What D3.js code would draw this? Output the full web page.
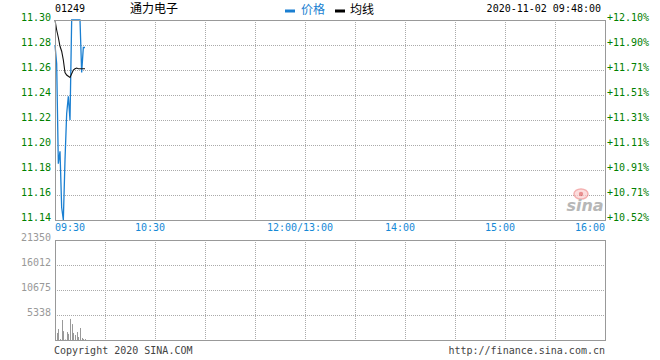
<!DOCTYPE html>
<html>
<head>
<meta charset="utf-8">
<script src="https://cdn.jsdelivr.net/npm/d3@7"></script>
<style>
  body { margin: 0; background: #fff; }
  text { font-family: "DejaVu Sans Mono", "Liberation Mono", monospace; font-size: 10px; }
  .cjk { font-family: "Noto Sans CJK SC", sans-serif; font-size: 12px; }
</style>
</head>
<body>
<script>
// minutes after 09:30 (09:30 .. 09:48)
const minutes = [0, 1, 2, 3, 4, 5, 6, 7, 8, 9, 10, 11, 12, 13, 14, 15, 16, 17, 18];
const prices = [11.28, 11.265, 11.185, 11.195, 11.15, 11.14, 11.188, 11.225, 11.239, 11.22,
  11.30, 11.30, 11.30, 11.30, 11.30, 11.30, 11.258, 11.278, 11.278];
const avgPrices = [11.30, 11.292, 11.286, 11.279, 11.275, 11.268, 11.258, 11.256, 11.255, 11.254,
  11.257, 11.26, 11.261, 11.2616, 11.261, 11.261, 11.261, 11.261, 11.261];
const volumes = [6000, 1500, 2350, 200, 4270, 1900, 100, 1700, 1300, 4500,
  3400, 1500, 1070, 1700, 640, 2560, 430, 200, 200];

const priceTicks = [11.30, 11.28, 11.26, 11.24, 11.22, 11.20, 11.18, 11.16, 11.14];
const pctLabels = ["+12.10%", "+11.90%", "+11.71%", "+11.51%", "+11.31%", "+11.11%", "+10.91%", "+10.71%", "+10.52%"];
const volTicks = [21350, 16012, 10675, 5338];
const timeTicks = [0, 60, 150, 210, 270, 330];
const timeLabels = ["09:30", "10:30", "12:00/13:00", "14:00", "15:00", "16:00"];
const gridMinutes = d3.range(30, 330, 30);

const width = 660, height = 360;
const left = 55, right = 605;

const svg = d3.select("body").append("svg")
  .attr("width", width)
  .attr("height", height);

const x = d3.scaleLinear().domain([0, 330]).range([left, right]);
const y = d3.scaleLinear().domain([11.14, 11.30]).range([220, 20]);
const yVol = d3.scaleLinear().domain([0, 21350]).range([340, 240]);

const gridColor = "#aaa";
const px = v => Math.round(v) + 0.5;

// header
svg.append("text").attr("x", 55).attr("y", 12).attr("fill", "#000").text("01249");
svg.append("text").attr("class", "cjk").attr("x", 130).attr("y", 13).attr("fill", "#000").text("通力电子");
svg.append("rect").attr("x", 285).attr("y", 9.5).attr("width", 10).attr("height", 3).attr("fill", "#1a7fd1");
svg.append("text").attr("class", "cjk").attr("x", 301).attr("y", 14).attr("fill", "#1a7fd1").text("价格");
svg.append("rect").attr("x", 335).attr("y", 9.5).attr("width", 10).attr("height", 3).attr("fill", "#000");
svg.append("text").attr("class", "cjk").attr("x", 350).attr("y", 14).attr("fill", "#000").text("均线");
svg.append("text").attr("x", 601).attr("y", 12).attr("text-anchor", "end").attr("fill", "#000").text("2020-11-02 09:48:00");

// price panel grid
const pg = svg.append("g");
pg.selectAll("line.v").data(gridMinutes).join("line")
  .attr("x1", d => px(x(d))).attr("x2", d => px(x(d)))
  .attr("y1", 20).attr("y2", 220)
  .attr("stroke", gridColor).attr("stroke-dasharray", "1,1");
pg.selectAll("line.h").data(priceTicks.slice(1, -1)).join("line")
  .attr("x1", left).attr("x2", right)
  .attr("y1", d => px(y(d))).attr("y2", d => px(y(d)))
  .attr("stroke", gridColor).attr("stroke-dasharray", "1,1");

// volume panel grid
const vg = svg.append("g");
vg.selectAll("line.v").data(gridMinutes).join("line")
  .attr("x1", d => px(x(d))).attr("x2", d => px(x(d)))
  .attr("y1", 240).attr("y2", 340)
  .attr("stroke", gridColor).attr("stroke-dasharray", "1,1");
vg.selectAll("line.h").data(volTicks.slice(1)).join("line")
  .attr("x1", left).attr("x2", right)
  .attr("y1", d => px(yVol(d))).attr("y2", d => px(yVol(d)))
  .attr("stroke", gridColor).attr("stroke-dasharray", "1,1");

// sina watermark
const wm = svg.append("g").attr("opacity", 0.7);
wm.append("ellipse").attr("cx", 581).attr("cy", 194).attr("rx", 7).attr("ry", 5)
  .attr("fill", "#fbd0d0").attr("stroke", "#f09090").attr("stroke-width", 1.5);
wm.append("circle").attr("cx", 581).attr("cy", 194).attr("r", 2.2).attr("fill", "#e06060");
wm.append("text").attr("x", 585).attr("y", 211).attr("text-anchor", "middle")
  .style("font-family", "'DejaVu Sans', sans-serif").style("font-size", "16px")
  .style("font-style", "italic").style("font-weight", "bold")
  .attr("fill", "#999").text("sina");

// volume bars
svg.selectAll("rect.vol").data(volumes).join("rect")
  .attr("class", "vol")
  .attr("x", (d, i) => Math.round(x(minutes[i])))
  .attr("y", d => yVol(d))
  .attr("width", 1)
  .attr("height", d => 340 - yVol(d))
  .attr("fill", "#999");

// lines
const priceLine = d3.line().x((d, i) => x(minutes[i])).y(d => y(d));
svg.append("path").datum(prices)
  .attr("d", priceLine)
  .attr("fill", "none").attr("stroke", "#1a7fd1").attr("stroke-width", 1.3);
svg.append("path").datum(avgPrices)
  .attr("d", priceLine)
  .attr("fill", "none").attr("stroke", "#111").attr("stroke-width", 1.1);

// frames
svg.append("rect").attr("x", 55.5).attr("y", 20.5).attr("width", 550).attr("height", 200)
  .attr("fill", "none").attr("stroke", "#999");
svg.append("rect").attr("x", 55.5).attr("y", 240.5).attr("width", 550).attr("height", 100)
  .attr("fill", "none").attr("stroke", "#999");

// axes labels
svg.selectAll("text.pl").data(priceTicks).join("text")
  .attr("class", "pl")
  .attr("x", 51).attr("y", d => y(d) + 1)
  .attr("text-anchor", "end").attr("fill", "#008000")
  .text(d => d.toFixed(2));
svg.selectAll("text.pr").data(pctLabels).join("text")
  .attr("class", "pr")
  .attr("x", 607).attr("y", (d, i) => y(priceTicks[i]) + 1)
  .attr("fill", "#008000")
  .text(d => d);
svg.selectAll("text.vl").data(volTicks).join("text")
  .attr("class", "vl")
  .attr("x", 51).attr("y", d => yVol(d) + 1)
  .attr("text-anchor", "end").attr("fill", "#999")
  .text(d => d);
svg.selectAll("text.tl").data(timeTicks).join("text")
  .attr("class", "tl")
  .attr("x", (d, i) => i === 0 ? x(d) : i === timeTicks.length - 1 ? x(d) : x(d) - 5)
  .attr("y", 230.5)
  .attr("text-anchor", (d, i) => i === 0 ? "start" : i === timeTicks.length - 1 ? "end" : "middle")
  .attr("fill", "#1589d6")
  .text((d, i) => timeLabels[i]);

// footer
svg.append("text").attr("x", 54).attr("y", 353.5).attr("fill", "#444").text("Copyright 2020 SINA.COM");
svg.append("text").attr("x", 605).attr("y", 353.5).attr("text-anchor", "end").attr("fill", "#444").text("http://finance.sina.com.cn");
</script>
</body>
</html>
